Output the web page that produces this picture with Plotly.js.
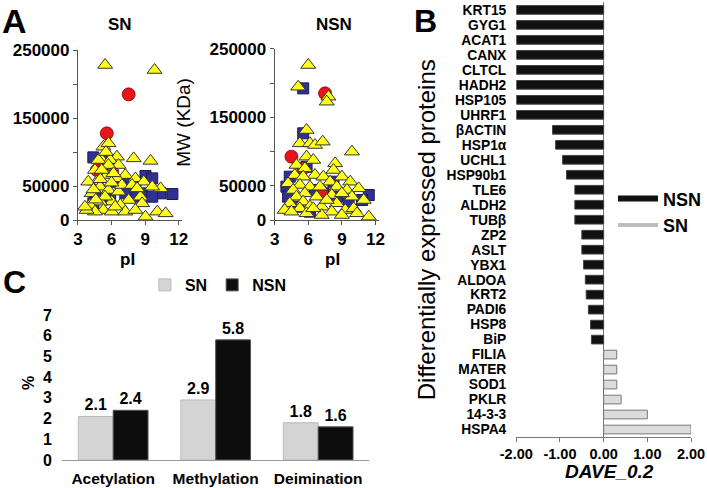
<!DOCTYPE html>
<html>
<head>
<meta charset="utf-8">
<script src="https://cdn.plot.ly/plotly-3.0.1.min.js"></script>
<style>html,body{margin:0;padding:0;background:#fff;}#chart{width:707px;height:488px;}</style>
</head>
<body>
<div id="chart"></div>
<script>
// ---------- Panel A: SN scatter (pI vs MW) ----------
const snYellowPI = [5.43,9.84,5.28,5.73,5.13,6.48,5.88,4.83,7.98,9.48,6.63,4.53,5.73,5.58,7.23,6.48,8.13,4.68,3.93,8.88,10.38,9.63,4.98,5.73,6.63,4.23,8.58,7.53,6.03,4.98,4.08,6.78,8.73,5.28,6.03,4.53,3.78,7.23,8.13,9.03,10.08,10.83,6.33,5.43,6.93,6.18,5.13,7.83,8.28,3.63,5.5,4.4,5.0,6.0,4.6];
const snYellowMW = [228000,220600,107900,112800,88300,93200,88300,88300,90700,87000,80900,73600,80900,66200,66200,61300,61300,56400,56400,56400,46600,49100,49100,44200,41800,39300,34400,29500,27100,27100,22200,22200,24600,14800,12400,12400,14800,12400,14800,5000,12400,9900,19700,34400,51500,68700,73600,51500,46600,19700,100000,45000,60000,55000,30000];
const snBluePI = [4.38,9.03,9.63,11.43,10.38,6.93,7.53,8.13,6.33,8.73,7.98,5.88,4.53,4.38,7.23,9.63,5.73];
const snBlueMW = [92200,64800,61300,38300,39300,56400,54000,49100,56400,39300,34400,34400,34400,24600,39300,34400,88300];
const snRedPI = [7.53,5.58,4.7,6.06];
const snRedMW = [184800,127500,73500,70600];

// ---------- Panel A: NSN scatter ----------
const nsnYellowPI = [6.0,5.1,7.8,7.65,5.85,5.25,6.15,6.6,7.29,9.9,5.85,4.95,6.45,8.4,5.7,8.25,4.8,6.6,7.35,5.55,9.0,7.95,9.75,4.2,5.25,6.15,7.05,8.55,4.65,9.45,10.5,5.7,6.75,8.1,9.9,10.95,4.95,4.35,5.55,6.15,8.55,7.2,3.9,5.25,8.1,9.3,10.05,7.2,9.0,10.35,11.4,4.5,5.85,6.45,7.65,9.0];
const nsnYellowMW = [226600,194900,180300,173000,131600,112100,112100,109700,114600,100000,92700,80500,87800,82900,75600,73200,65900,65900,63400,63400,63400,56100,56100,53700,51300,48800,48800,48800,44000,44000,46400,39100,34200,36600,34200,29300,34200,24500,26900,19600,24500,19600,14700,17200,12300,14700,17200,7400,7400,9900,5000,12300,9900,17200,29300,39100];
const nsnBluePI = [5.55,5.55,4.35,4.05,4.2,6.15,5.1,5.85,8.55,9.6,11.4,10.8,8.25,6.6,7.35];
const nsnBlueMW = [192500,126800,63400,48800,34200,12300,19600,78000,34200,24500,36600,29300,56100,44000,39100];
const nsnRedPI = [7.5,4.5,5.55,7.2];
const nsnRedMW = [185200,92700,75600,41500];

const mwTickVals = [0,50000,100000,150000,200000,250000];
const mwTickText = ['0','50000','','150000','','250000'];
const piTickVals = [3,6,9,12];

// ---------- Panel B: DAVE_0.2 ----------
const proteins = ['KRT15','GYG1','ACAT1','CANX','CLTCL','HADH2','HSP105','UHRF1','βACTIN','HSP1α','UCHL1','HSP90b1','TLE6','ALDH2','TUBβ','ZP2','ASLT','YBX1','ALDOA','KRT2','PADI6','HSP8','BiP','FILIA','MATER','SOD1','PKLR','14-3-3','HSPA4'];
const nsnProteins = proteins.slice(0, 23);
const nsnDave = [-2,-2,-2,-2,-2,-2,-2,-2,-1.17,-1.1,-0.94,-0.85,-0.66,-0.66,-0.66,-0.5,-0.5,-0.46,-0.42,-0.4,-0.35,-0.3,-0.28];
const snProteins = proteins.slice(23);
const snDave = [0.3,0.3,0.3,0.4,1.0,2.0];
const daveTickVals = [-2,-1,0,1,2];
const daveTickText = ['-2.00','-1.00','0.00','1.00','2.00'];

// ---------- Panel C: PTM percentages ----------
const ptm = ['Acetylation','Methylation','Deimination'];
const snPct = [2.1,2.9,1.8];
const nsnPct = [2.4,5.8,1.6];

const FONT = '"Liberation Sans", Arial, sans-serif';
const bold = (s) => ({family: FONT, size: s, color: '#000', weight: 'bold'});

function scatterSet(xa, ya, bx, by, rx, ry, yx, yy) {
  return [
    {type:'scatter', mode:'markers', x:bx, y:by, xaxis:xa, yaxis:ya, showlegend:false, cliponaxis:false,
     marker:{symbol:'square', size:11, color:'#2e3192', line:{color:'#1a1a55', width:1}}},
    {type:'scatter', mode:'markers', x:rx, y:ry, xaxis:xa, yaxis:ya, showlegend:false, cliponaxis:false,
     marker:{symbol:'circle', size:13, color:'#e8141b', line:{color:'#8a0000', width:0.8}}},
    {type:'scatter', mode:'markers', x:yx, y:yy, xaxis:xa, yaxis:ya, showlegend:false, cliponaxis:false,
     marker:{symbol:'triangle-up', size:13, color:'#ffff1a', line:{color:'#333', width:1}}}
  ];
}

const traces = [
  ...scatterSet('x','y', snBluePI, snBlueMW, snRedPI, snRedMW, snYellowPI, snYellowMW),
  ...scatterSet('x2','y2', nsnBluePI, nsnBlueMW, nsnRedPI, nsnRedMW, nsnYellowPI, nsnYellowMW),
  {type:'bar', orientation:'h', x:nsnDave, y:nsnProteins, xaxis:'x3', yaxis:'y3', offsetgroup:'b', width:0.58,
   showlegend:false, marker:{color:'#111', line:{color:'#444', width:1}}},
  {type:'bar', orientation:'h', x:snDave, y:snProteins, xaxis:'x3', yaxis:'y3', offsetgroup:'b', width:0.58,
   showlegend:false, marker:{color:'#dcdcdc', line:{color:'#777', width:1}}},
  {type:'scatter', mode:'lines', x:[null], y:[null], xaxis:'x3', yaxis:'y3', name:'NSN', legend:'legend2',
   line:{color:'#111', width:6}},
  {type:'scatter', mode:'lines', x:[null], y:[null], xaxis:'x3', yaxis:'y3', name:'SN', legend:'legend2',
   line:{color:'#bdbdbd', width:4}},
  {type:'bar', x:ptm, y:snPct, name:'SN', xaxis:'x4', yaxis:'y4', legend:'legend',
   marker:{color:'#d4d4d4', line:{color:'#bbb', width:1}}, text:snPct.map(v=>v.toFixed(1)),
   textposition:'outside', textfont:bold(16), cliponaxis:false},
  {type:'bar', x:ptm, y:nsnPct, name:'NSN', xaxis:'x4', yaxis:'y4', legend:'legend',
   marker:{color:'#0d0d0d', line:{color:'#555', width:1}}, text:nsnPct.map(v=>v.toFixed(1)),
   textposition:'outside', textfont:bold(16), cliponaxis:false}
];

const sAxisX = (dom, anchor) => ({domain:dom, anchor:anchor, range:[3,12.3], tickvals:piTickVals, showline:true,
  linecolor:'#555', linewidth:1, ticks:'outside', ticklen:4, tickcolor:'#555', showgrid:false, zeroline:false,
  tickfont:bold(17), fixedrange:true});
const sAxisY = (dom, anchor) => ({domain:dom, anchor:anchor, range:[0,250000], tickvals:mwTickVals, ticktext:mwTickText,
  showline:true, linecolor:'#555', linewidth:1, ticks:'outside', ticklen:4, tickcolor:'#555', showgrid:false,
  zeroline:false, tickfont:bold(17), fixedrange:true});

const ann = (x, y, text, font, extra) => Object.assign({xref:'paper', yref:'paper', x:x, y:y, text:text,
  showarrow:false, font:font, xanchor:'center', yanchor:'middle'}, extra || {});

const layout = {
  width:707, height:488, margin:{l:0, r:0, t:0, b:0}, paper_bgcolor:'#fff', plot_bgcolor:'rgba(0,0,0,0)',
  font:{family:FONT, color:'#000'},
  barmode:'group', bargap:0.32, bargroupgap:0,
  xaxis: sAxisX([0.1103,0.258],'y'),
  yaxis: sAxisY([0.549,0.8975],'x'),
  xaxis2: sAxisX([0.389,0.5366],'y2'),
  yaxis2: sAxisY([0.549,0.8996],'x2'),
  xaxis3: {domain:[0.7313,0.9788], anchor:'y3', range:[-2,2], tickvals:daveTickVals, ticktext:daveTickText,
    showline:true, linecolor:'#777', ticks:'outside', ticklen:4, tickcolor:'#777', showgrid:false,
    zeroline:true, zerolinecolor:'#777', zerolinewidth:1, tickfont:bold(14.5), fixedrange:true},
  yaxis3: {domain:[0.1045,0.995], anchor:'x3', type:'category', categoryorder:'array', categoryarray:proteins,
    tickmode:'array', tickvals:proteins,
    range:[28.5,-0.5], showline:false, ticks:'', showgrid:false, tickfont:bold(13.8), ticklabelstandoff:9, fixedrange:true},
  xaxis4: {domain:[0.0877,0.5233], anchor:'y4', showline:true, linecolor:'#999', ticks:'', showgrid:false,
    tickfont:bold(15.5), ticklabelstandoff:4, fixedrange:true},
  yaxis4: {domain:[0.0574,0.3545], anchor:'x4', range:[0,7], dtick:1, showline:false, ticks:'', showgrid:false,
    zeroline:false, tickfont:bold(16), ticklabelstandoff:9, fixedrange:true},
  legend: {x:0.205, y:0.416, xanchor:'left', yanchor:'middle', orientation:'h', font:bold(16),
    bgcolor:'rgba(0,0,0,0)', itemwidth:30, traceorder:'normal'},
  legend2: {x:0.868, y:0.566, xanchor:'left', yanchor:'middle', orientation:'v', font:bold(18),
    bgcolor:'rgba(0,0,0,0)', itemwidth:40, traceorder:'normal', tracegroupgap:0},
  annotations: [
    ann(0.0212,0.957,'A',bold(34)),
    ann(0.6025,0.957,'B',bold(32)),
    ann(0.0212,0.422,'C',bold(32)),
    ann(0.1697,0.9488,'SN',bold(17)),
    ann(0.4724,0.9488,'NSN',bold(17)),
    ann(0.2588,0.75,'MW (KDa)',{family:FONT,size:19,color:'#000'},{textangle:-90}),
    ann(0.181,0.469,'pI',bold(17)),
    ann(0.471,0.469,'pI',bold(17)),
    ann(0.604,0.529,'Differentially expressed proteins',{family:FONT,size:24,color:'#000'},{textangle:-90}),
    ann(0.8628,0.033,'DAVE_0.2',{family:FONT,size:19,color:'#000',weight:'bold',style:'italic'}),
    ann(0.0396,0.215,'%',bold(16),{textangle:-90})
  ]
};

Plotly.newPlot('chart', traces, layout, {staticPlot:true, displayModeBar:false});
</script>
</body>
</html>
